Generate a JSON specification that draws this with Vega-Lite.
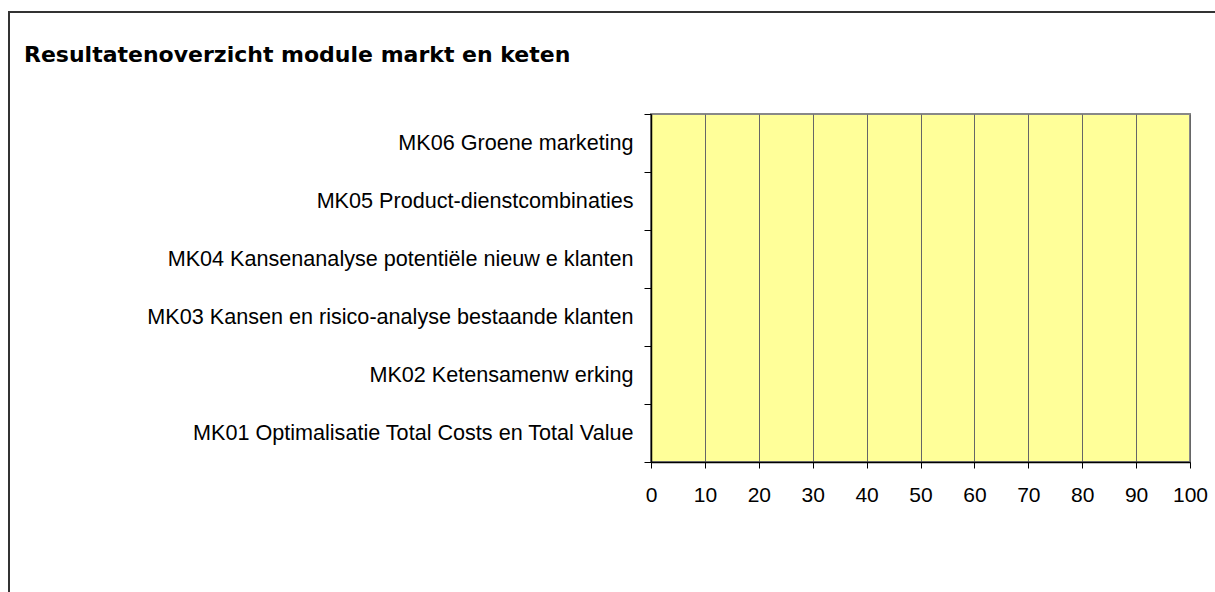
{
  "$schema": "https://vega.github.io/schema/vega-lite/v6.json",
  "autosize": {"type": "none"},
  "padding": {"left": 651, "top": 114, "right": 25, "bottom": 130},
  "width": 539,
  "height": 348,
  "background": "white",
  "title": {
    "text": "Resultatenoverzicht module markt en keten",
    "anchor": "start",
    "frame": "group",
    "dx": -627,
    "offset": -73,
    "baseline": "alphabetic",
    "font": "DejaVu Sans",
    "fontSize": 22,
    "fontWeight": "bold",
    "color": "black"
  },
  "data": {
    "values": [
      {"module": "MK01 Optimalisatie Total Costs en Total Value", "score": 0},
      {"module": "MK02 Ketensamenw erking", "score": 0},
      {"module": "MK03 Kansen en risico-analyse bestaande klanten", "score": 0},
      {"module": "MK04 Kansenanalyse potentiële nieuw e klanten", "score": 0},
      {"module": "MK05 Product-dienstcombinaties", "score": 0},
      {"module": "MK06 Groene marketing", "score": 0}
    ]
  },
  "mark": {"type": "bar"},
  "encoding": {
    "y": {
      "field": "module",
      "type": "nominal",
      "sort": "descending",
      "scale": {"paddingInner": 0, "paddingOuter": 0},
      "axis": {
        "title": null,
        "tickBand": "extent",
        "grid": false,
        "domainColor": "black",
        "domainWidth": 1.5,
        "tickColor": "black",
        "tickSize": 7,
        "tickWidth": 1,
        "labelPadding": 11,
        "labelFont": "Liberation Sans",
        "labelFontSize": 21.6,
        "labelColor": "black",
        "labelLimit": 700
      }
    },
    "x": {
      "field": "score",
      "type": "quantitative",
      "scale": {"domain": [0, 100], "nice": false},
      "axis": {
        "title": null,
        "values": [0, 10, 20, 30, 40, 50, 60, 70, 80, 90, 100],
        "grid": true,
        "gridColor": "#666666",
        "gridWidth": 1,
        "gridOpacity": 1,
        "domainColor": "black",
        "domainWidth": 1.5,
        "tickColor": "black",
        "tickSize": 6,
        "tickWidth": 1,
        "labelPadding": 16,
        "labelFont": "Liberation Sans",
        "labelFontSize": 21,
        "labelColor": "black",
        "labelFlush": false,
        "labelOverlap": false
      }
    },
    "color": {
      "datum": "Resultaat",
      "scale": {"range": ["#9999ff"]},
      "legend": {
        "orient": "none",
        "legendX": -642,
        "legendY": -102,
        "padding": 600,
        "strokeColor": "#333333",
        "cornerRadius": 0,
        "title": null,
        "symbolOpacity": 0,
        "labelOpacity": 0,
        "labelExpr": "''",
        "encode": {"legend": {"update": {"strokeWidth": {"value": 2}}}}
      }
    }
  },
  "config": {
    "view": {"fill": "#FFFF99", "stroke": "#888888", "strokeWidth": 2}
  }
}
